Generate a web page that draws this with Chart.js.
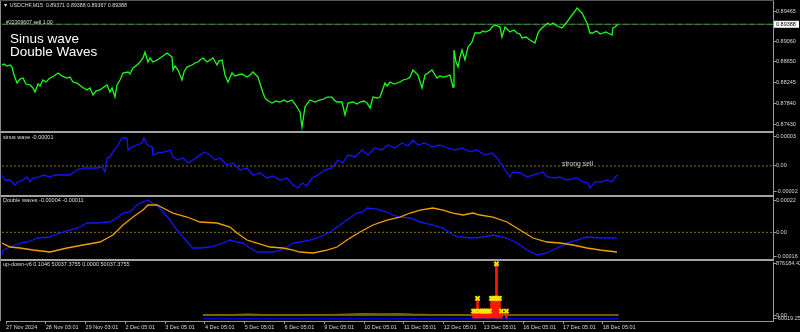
<!DOCTYPE html>
<html>
<head>
<meta charset="utf-8">
<script src="https://cdn.jsdelivr.net/npm/chart.js@4.4.1/dist/chart.umd.min.js"></script>
<style>
body{margin:0;background:#000;}
#wrap{position:relative;width:800px;height:332px;background:#000;overflow:hidden;font-family:"Liberation Sans",Arial,sans-serif;}
canvas{position:absolute;left:0;}
.sep{position:absolute;left:0;width:774px;height:2px;background:#a3a3a3;}
.txt{position:absolute;color:#dedede;font-size:5.5px;line-height:1;white-space:nowrap;}
</style>
</head>
<body>
<div id="wrap">
  <div class="sep" style="top:131px"></div>
  <div class="sep" style="top:195px"></div>
  <div class="sep" style="top:259px"></div>
  <canvas id="mainChart" width="800" height="131" style="top:0"></canvas>
  <canvas id="sinusChart" width="800" height="62" style="top:133px"></canvas>
  <canvas id="doubleChart" width="800" height="62" style="top:197px"></canvas>
  <canvas id="updownChart" width="800" height="76" style="top:256px"></canvas>
  <div style="position:absolute;left:0;top:0;width:1px;height:321px;background:#8a8a8a"></div>
  <div style="position:absolute;left:0;top:0;width:774px;height:1px;background:#555"></div>
  <div class="txt" style="left:3px;top:2.5px;font-size:5.3px">&#9660; USDCHF,M15&nbsp; 0.89371 0.89388 0.89367 0.89388</div>
  <div class="txt" style="left:6px;top:20px;font-size:5.2px">#22309607 sell 1.00</div>
  <div class="txt" style="left:10px;top:31.5px;font-size:13.5px;line-height:13px;color:#fff">Sinus wave<br>Double Waves</div>
  <div class="txt" style="left:3px;top:135.2px">sinus wave -0.00001</div>
  <div class="txt" style="left:3px;top:198.2px">Double waves -0.00004 -0.00011</div>
  <div class="txt" style="left:3px;top:261.6px">up-down-v6 0.1046 50037.3755 0.0000 50037.3755</div>
  <div class="txt" style="left:562px;top:161px;font-size:6.8px;color:#cfcfcf">strong sell</div>
</div>
<script>
// x = trading hours since 27 Nov 2024 00:00 (weekends skipped, like the terminal)
const visibleHours = 462.6;
const dayTicks = [0, 24, 48, 72, 96, 120, 144, 168, 192, 216, 240, 264, 288, 312, 336, 360];
const dayLabels = ["27 Nov 2024", "28 Nov 03:01", "29 Nov 03:01", "2 Dec 05:01", "3 Dec 05:01",
    "4 Dec 05:01", "5 Dec 05:01", "6 Dec 05:01", "9 Dec 05:01", "10 Dec 05:01", "11 Dec 05:01",
    "12 Dec 05:01", "13 Dec 05:01", "16 Dec 05:01", "17 Dec 05:01", "18 Dec 05:01"];

// USDCHF M15 close
const priceHours = [0,1.2,3,4.8,6,7.2,9,10.8,12.6,14.4,16.8,18.6,19.8,21.6,22.8,24.6,26.4,28.8,31.2,33.6,36,39,40.8,42.6,45,48,51,52.8,54.6,56.4,58.8,61.2,63,64.8,66,67.8,69,70.8,72.6,75.6,76.8,78.6,81,82.8,84.6,85.8,87.6,88.8,90.6,93,94.8,96.6,99,102,102.6,103.8,105.6,108,109.2,111,114,115.8,117.6,118.8,120.6,123,124.8,126.6,129,130.2,132,133.8,135.6,138,139.8,141.6,144,147,148.8,150.6,153.6,156.6,157.8,159,160.8,162,164.4,166.8,169.2,171,174,175.8,177,178.8,180,181.8,183,184.8,187.8,190.8,193.2,195,198,199.2,201,204,205.8,207.6,210.6,213,214.8,217.2,219,220.8,222.6,225,226.8,229.8,231,232.8,235.2,237,238.8,240.6,243,244.8,246.6,249.6,252,253.8,255.6,258,261,262.8,264.6,267,268.8,270.6,271.2,272.4,273.6,274.8,276,277.8,279.6,282,283.8,286.8,288.6,289.8,292.8,294,295.8,298.8,300,301.8,304.8,307.2,309,310.8,312,314.4,316.8,319.8,321.6,322.8,324.6,327.6,328.8,330.6,333,336,339,342,343.8,345,346.2,348,351,352.8,354.6,356.4,357.6,358.8,360.6,362.4,363.6,366,366.6,367.8,369.6];
const priceValues = [0.88590,0.88609,0.88570,0.88590,0.88550,0.88394,0.88237,0.88315,0.88335,0.88217,0.88198,0.88139,0.88060,0.88217,0.88178,0.88296,0.88256,0.88335,0.88374,0.88433,0.88374,0.88335,0.88354,0.88256,0.88237,0.88158,0.88100,0.88139,0.88002,0.88080,0.88100,0.88158,0.88198,0.88060,0.88139,0.87962,0.88198,0.88296,0.88433,0.88452,0.88413,0.88531,0.88590,0.88648,0.88727,0.88844,0.88648,0.88727,0.88648,0.88688,0.88727,0.88766,0.88825,0.88746,0.88492,0.88570,0.88492,0.88296,0.88452,0.88550,0.88590,0.88629,0.88648,0.88688,0.88727,0.88648,0.88688,0.88727,0.88590,0.88668,0.88688,0.88394,0.88256,0.88433,0.88374,0.88394,0.88413,0.88354,0.88394,0.88452,0.88354,0.88041,0.87943,0.87904,0.87864,0.87845,0.87884,0.87864,0.87904,0.87864,0.87904,0.87825,0.87766,0.87668,0.87374,0.87766,0.87825,0.87904,0.87864,0.87904,0.87923,0.87962,0.87962,0.87904,0.87864,0.87864,0.87610,0.87845,0.87864,0.87825,0.87864,0.87884,0.87845,0.87747,0.87962,0.87943,0.87962,0.88237,0.88178,0.88256,0.88217,0.88237,0.88256,0.88296,0.88315,0.88354,0.88492,0.88394,0.88139,0.88394,0.88433,0.88492,0.88335,0.88374,0.88354,0.88374,0.88394,0.88158,0.88884,0.88648,0.88550,0.88746,0.88884,0.88688,0.88942,0.89040,0.89217,0.89217,0.89256,0.89236,0.89276,0.89334,0.89374,0.89334,0.89138,0.89334,0.89236,0.89276,0.89217,0.89197,0.89119,0.89138,0.89080,0.89021,0.89217,0.89276,0.89334,0.89413,0.89374,0.89413,0.89354,0.89315,0.89432,0.89570,0.89648,0.89707,0.89668,0.89609,0.89413,0.89217,0.89217,0.89256,0.89236,0.89197,0.89217,0.89236,0.89217,0.89178,0.89315,0.89334,0.89388];
const bidPrice = 0.89388;
const mainTicks = [0.87430, 0.87840, 0.88245, 0.88650, 0.89060, 0.89648];
const mainTickLabels = ["0.87430", "0.87840", "0.88245", "0.88650", "0.89060", "0.89465"];

// sinus wave
const sinusHours = [0,1.8,4.8,7.8,9.6,12.6,15,16.8,18.6,22.8,24.6,28.8,31.8,36.6,40.8,45,48.6,52.8,57,60,61.8,63,64.8,66.6,69.6,72,75,75.6,78,81,84,85.2,87,90,90.6,93.6,97.8,100.8,102.6,105.6,108.6,111.6,114.6,118.8,121.8,124.8,127.8,130.8,135,138.6,142.8,147,150.6,154.8,159,162.6,166.8,171,174.6,177.6,180,183,186,189.6,193.8,198,201.6,204.6,207.6,211.8,216,219.6,223.8,228,231.6,235.8,240,243.6,246.6,249.6,253.8,258,262.8,267,271.8,276,280.8,285,289.8,294,297,298.8,301.8,304.8,306.6,310.8,315,318.6,324.6,327,331.8,334.8,339,345,348.6,351.6,352.8,355.8,360,363,366,367.8,369.6];
const sinusValues = [-8.5e-6,-13.2e-6,-13.2e-6,-17.9e-6,-15.0e-6,-13.2e-6,-10.3e-6,-15.0e-6,-11.3e-6,-10.3e-6,-8.5e-6,-10.3e-6,-8.5e-6,-8.5e-6,-8.5e-6,-3.8e-6,-1.9e-6,-1.9e-6,-1.9e-6,-0.9e-6,-5.6e-6,7.5e-6,8.5e-6,13.2e-6,19.7e-6,26.3e-6,26.3e-6,15.0e-6,17.9e-6,19.7e-6,21.6e-6,26.3e-6,19.7e-6,17.9e-6,10.3e-6,12.2e-6,13.2e-6,15.0e-6,8.5e-6,5.6e-6,7.5e-6,2.8e-6,5.6e-6,10.3e-6,13.2e-6,10.3e-6,5.6e-6,7.5e-6,0.9e-6,2.8e-6,-3.8e-6,-1.9e-6,-8.5e-6,-6.6e-6,-11.3e-6,-9.4e-6,-13.2e-6,-11.3e-6,-17.9e-6,-20.7e-6,-16.0e-6,-18.8e-6,-11.3e-6,-8.5e-6,-3.8e-6,-1.9e-6,5.6e-6,2.8e-6,10.3e-6,8.5e-6,15.0e-6,10.3e-6,16.9e-6,15.0e-6,19.7e-6,16.9e-6,21.6e-6,18.8e-6,24.4e-6,19.7e-6,21.6e-6,17.9e-6,19.7e-6,16.9e-6,15.0e-6,16.9e-6,13.2e-6,15.0e-6,10.3e-6,12.2e-6,7.5e-6,3.8e-6,-3.8e-6,-10.3e-6,-5.6e-6,-6.6e-6,-10.3e-6,-8.5e-6,-5.6e-6,-10.3e-6,-11.3e-6,-10.3e-6,-13.2e-6,-11.3e-6,-15.0e-6,-16.0e-6,-20.7e-6,-15.0e-6,-15.0e-6,-13.2e-6,-15.0e-6,-10.3e-6,-8.5e-6];
const sinusTicks = [-2.44e-5, 0, 2.73e-5];
const sinusTickLabels = ["-0.00002", "0.00", "0.00003"];

// double waves: fast (blue) and slow (orange)
const fastHours = [0,0.6,4.8,10.8,15,18.6,21,28.8,34.8,40.8,46.8,51,57,64.8,69,72.6,76.8,81,84.6,87.6,90,93,96.6,100.8,105,108.6,112.8,114.6,118.8,124.8,129,132.6,136.8,141,144.6,148.8,153,159,162.6,166.8,171,174.6,178.8,184.8,190.8,196.8,202.8,207,213,216.6,219,225,231,234.6,238.8,244.8,250.8,258.6,264.6,270.6,274.8,282.6,288.6,294.6,303,309,315,321,327,333,339,345,351,358.8,369];
const fastValues = [-141.4e-6,-110.3e-6,-91.6e-6,-66.7e-6,-60.4e-6,-48.0e-6,-35.5e-6,-29.3e-6,-4.4e-6,14.3e-6,33.0e-6,57.9e-6,57.9e-6,64.2e-6,89.1e-6,120.2e-6,126.5e-6,170.1e-6,188.8e-6,201.3e-6,182.1e-6,170.1e-6,126.5e-6,76.6e-6,14.3e-6,-29.3e-6,-79.1e-6,-97.8e-6,-97.8e-6,-91.6e-6,-79.1e-6,-66.7e-6,-48.0e-6,-60.4e-6,-66.7e-6,-97.8e-6,-122.7e-6,-122.7e-6,-122.7e-6,-110.3e-6,-91.6e-6,-66.7e-6,-60.4e-6,-48.0e-6,-29.3e-6,1.9e-6,45.5e-6,76.6e-6,120.2e-6,126.5e-6,151.4e-6,145.1e-6,126.5e-6,107.8e-6,95.3e-6,89.1e-6,64.2e-6,45.5e-6,26.8e-6,-16.8e-6,-29.3e-6,-35.5e-6,-29.3e-6,-16.8e-6,-35.5e-6,-66.7e-6,-110.3e-6,-141.4e-6,-128.9e-6,-97.8e-6,-66.7e-6,-48.0e-6,-29.3e-6,-35.5e-6,-35.5e-6];
const slowHours = [0,4.8,10.8,18.6,28.8,39,48.6,58.8,66.6,72.6,78.6,84.6,87.6,93,96.6,102.6,111,118.8,129,136.8,141,147,153,160.8,168.6,174.6,178.8,186.6,195,201,207,214.8,222.6,231,238.8,244.8,250.8,258.6,264.6,270.6,276.6,282.6,286.8,294.6,303,310.8,318.6,327,334.8,342.6,351,358.8,369];
const slowValues = [-66.7e-6,-91.6e-6,-97.8e-6,-110.3e-6,-122.7e-6,-97.8e-6,-79.1e-6,-60.4e-6,-16.8e-6,45.5e-6,95.3e-6,138.9e-6,170.1e-6,170.1e-6,151.4e-6,120.2e-6,95.3e-6,64.2e-6,57.9e-6,33.0e-6,-4.4e-6,-48.0e-6,-66.7e-6,-91.6e-6,-97.8e-6,-110.3e-6,-122.7e-6,-128.9e-6,-110.3e-6,-91.6e-6,-48.0e-6,1.9e-6,45.5e-6,76.6e-6,95.3e-6,120.2e-6,138.9e-6,151.4e-6,138.9e-6,120.2e-6,107.8e-6,120.2e-6,107.8e-6,95.3e-6,64.2e-6,14.3e-6,-35.5e-6,-60.4e-6,-66.7e-6,-79.1e-6,-97.8e-6,-110.3e-6,-122.7e-6];
const doubleTicks = [-1.477e-4, 0, 1.969e-4];
const doubleTickLabels = ["-0.00016", "0.00", "0.00022"];

// up-down-v6
const spikeHours = [282,283.2,284.4,285.6,286.8,288,289.2,290.4,291.6,292.8,294,295.2,295.8,296.4,297.6,298.8,301.8];
const spikeValues = [65800,65800,285000,65800,65800,65800,65800,65800,65800,285000,285000,285000,876184.42,285000,285000,65800,65800];
const levelHours = [118.8, 369.6];
const upperLevel = [0, 0];
const lowerLevel = [-60019.25, -60019.25];
const driftHours = [118.8,136.8,145.8,154.8,166.8,178.8,196.8,214.8,226.8,235.8,244.8,256.8,268.8,280.8];
const driftValues = [0,6000,14000,6000,0,0,9000,22000,18000,26000,14000,9000,4000,0];
const updownTicks = [-60019.25, 0, 876184.42];
const updownTickLabels = ["-60019.25", "0.00", "876184.42"];

Chart.defaults.font.family = "'Liberation Sans', Arial, sans-serif";
Chart.defaults.font.size = 5.5;
Chart.defaults.color = "#d8d8d8";

const pts = (xs, ys) => xs.map((x, i) => ({x: x, y: ys[i]}));
const axisGray = "#9a9a9a";

function xAxis(show) {
    return {
        type: "linear", min: 0, max: visibleHours, display: show, offset: false,
        afterBuildTicks: s => { s.ticks = dayTicks.map(v => ({value: v})); },
        afterFit: s => { s.height = show ? 11 : 0; s.paddingLeft = 0; s.paddingRight = 0; },
        ticks: {autoSkip: false, maxRotation: 0, align: "start", padding: 0, color: "#d8d8d8",
            callback: (v, i) => dayLabels[i]},
        grid: {offset: false, drawOnChartArea: false, tickLength: 3, color: axisGray},
        border: {color: axisGray}
    };
}

function yAxis(min, max, ticks, labels) {
    return {
        position: "right", min: min, max: max,
        afterBuildTicks: s => { s.ticks = ticks.map(v => ({value: v})); },
        afterFit: s => { s.width = 27; s.paddingTop = 0; s.paddingBottom = 0; },
        ticks: {autoSkip: false, padding: 0, color: "#d8d8d8", callback: (v, i) => labels[i]},
        grid: {drawOnChartArea: false, tickLength: 3, color: axisGray},
        border: {color: axisGray}
    };
}

// white price box for the current bid on the right axis
const bidBox = {
    id: "bidBox",
    afterDraw(chart) {
        const y = chart.scales.y.getPixelForValue(bidPrice);
        const x = chart.chartArea.right;
        const c = chart.ctx;
        c.save();
        c.fillStyle = "#ffffff";
        c.fillRect(x + 1, y - 3.5, 25, 7);
        c.fillStyle = "#000000";
        c.font = "5.5px 'Liberation Sans', Arial, sans-serif";
        c.textBaseline = "middle";
        c.fillText(bidPrice.toFixed(5), x + 3, y + 0.3);
        c.restore();
    }
};

function baseOptions(xShow, y) {
    return {
        responsive: false, animation: false, events: [],
        layout: {padding: {left: 2, right: 0, top: 0, bottom: 0}},
        plugins: {legend: {display: false}, tooltip: {enabled: false}},
        elements: {point: {radius: 0}, line: {tension: 0}},
        scales: {x: xAxis(xShow), y: y}
    };
}

function line(data, color, width, extra) {
    return Object.assign({data: data, borderColor: color, borderWidth: width, pointRadius: 0, fill: false}, extra || {});
}

new Chart("mainChart", {
    type: "line",
    data: {datasets: [
        line(pts(priceHours, priceValues), "#1cff1c", 1.3, {order: 0}),
        line(pts([0, visibleHours], [bidPrice, bidPrice]), "#2f8f2f", 1, {borderDash: [6, 3], order: 1}),
        line(pts([0, visibleHours], [bidPrice, bidPrice]), "#505050", 1, {order: 2})
    ]},
    options: baseOptions(false, yAxis(0.87296, 0.89864, mainTicks, mainTickLabels)),
    plugins: [bidBox]
});

new Chart("sinusChart", {
    type: "line",
    data: {datasets: [
        line(pts(sinusHours, sinusValues), "#1414ff", 1.3, {order: 0}),
        line(pts([0, visibleHours], [0, 0]), "#8c7400", 1, {borderDash: [2, 2], order: 5})
    ]},
    options: baseOptions(false, yAxis(-2.73e-5, 3.10e-5, sinusTicks, sinusTickLabels))
});

new Chart("doubleChart", {
    type: "line",
    data: {datasets: [
        line(pts(fastHours, fastValues), "#1414ff", 1.3, {order: 1}),
        line(pts(slowHours, slowValues), "#f2a000", 1.3, {order: 0}),
        line(pts([0, visibleHours], [0, 0]), "#8c7400", 1, {borderDash: [2, 2], order: 5})
    ]},
    options: baseOptions(false, yAxis(-1.663e-4, 2.20e-4, doubleTicks, doubleTickLabels))
});

new Chart("updownChart", {
    type: "line",
    data: {datasets: [
        {type: "line", data: pts(spikeHours, spikeValues), showLine: false, pointStyle: "crossRot",
            pointRadius: 3, pointBorderWidth: 2, pointBorderColor: "#ffe400", order: 0, clip: 4},
        {type: "bar", data: pts(spikeHours, spikeValues), backgroundColor: "#ff1a00", barThickness: 2,
            base: -60019.25, grouped: false, order: 1},
        line(pts(driftHours, driftValues), "#7d6b00", 1.2, {order: 2}),
        line(pts(levelHours, upperLevel), "#d6b400", 1.2, {order: 3}),
        line(pts(levelHours, lowerLevel), "#0000c8", 1.4, {order: 4})
    ]},
    options: baseOptions(true, yAxis(-102895, 909185, updownTicks, updownTickLabels))
});
</script>
</body>
</html>
